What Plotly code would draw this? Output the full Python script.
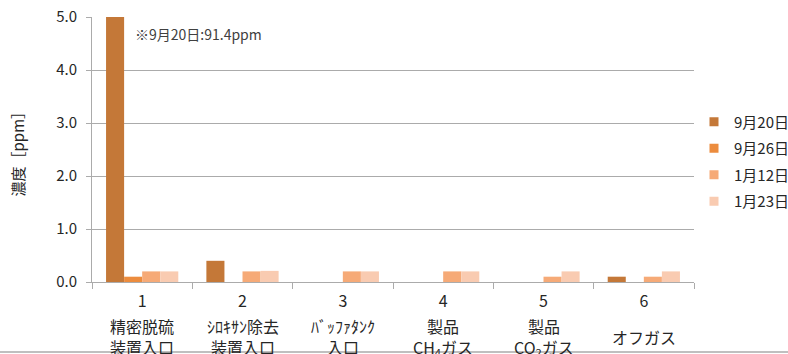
import plotly.graph_objects as go

# Sampling points (x-axis categories) and their names
points = ["1", "2", "3", "4", "5", "6"]
point_names = [
    "精密脱硫<br>装置入口",
    "ｼﾛｷｻﾝ除去<br>装置入口",
    "ﾊﾞｯﾌｧﾀﾝｸ<br>入口",
    "製品<br>CH<sub>4</sub>ガス",
    "製品<br>CO<sub>2</sub>ガス",
    "オフガス",
]

# Measurement dates and concentrations [ppm]
dates = ["9月20日", "9月26日", "1月12日", "1月23日"]
conc_0920 = [91.4, 0.4, 0.0, 0.0, 0.0, 0.1]
conc_0926 = [0.1, 0.0, 0.0, 0.0, 0.0, 0.0]
conc_0112 = [0.2, 0.2, 0.2, 0.2, 0.1, 0.1]
conc_0123 = [0.2, 0.21, 0.2, 0.2, 0.2, 0.2]
series = [conc_0920, conc_0926, conc_0112, conc_0123]
colors = ["#C47838", "#EC8C3E", "#F6AA77", "#F9CBB1"]

y_ticks = [0, 1, 2, 3, 4, 5]
y_ticktext = ["0.0", "1.0", "2.0", "3.0", "4.0", "5.0"]
note_text = "※9月20日:91.4ppm"

font_family = "Noto Sans CJK JP, Noto Sans, sans-serif"
text_color = "#404040"
dark_text = "#262626"
grid_color = "#ABABAB"

fig = go.Figure()
for name, vals, col in zip(dates, series, colors):
    fig.add_trace(go.Bar(
        x=points, y=vals, name=name, marker_color=col,
        marker_line_width=0, showlegend=False,
    ))
    # small square legend swatch
    fig.add_trace(go.Scatter(
        x=[None], y=[None], mode="markers", name=name,
        marker=dict(symbol="square", size=9, color=col),
        legendgroup=name, showlegend=True,
    ))

annotations = []
for i, label in enumerate(point_names):
    annotations.append(dict(
        x=i, xref="x", y=-0.207, yref="paper", text=label,
        showarrow=False, xanchor="center", yanchor="middle",
        font=dict(size=16, color=dark_text, family=font_family),
    ))

annotations.append(dict(
    x=0, xref="x", xshift=-9, y=5, yref="y", yshift=-17, text=note_text,
    showarrow=False, xanchor="left", yanchor="middle",
    font=dict(size=14, color=text_color, family=font_family),
))
annotations.append(dict(
    x=-0.123, xref="paper", y=0.5, yref="paper", text="濃度［ppm］",
    textangle=-90, showarrow=False, xanchor="center", yanchor="middle",
    font=dict(size=15, color=dark_text, family=font_family),
))

fig.update_layout(
    width=788, height=354,
    margin=dict(l=92, r=94, t=17, b=72, autoexpand=False),
    paper_bgcolor="white", plot_bgcolor="white",
    barmode="group", bargap=0.28, bargroupgap=0,
    font=dict(family=font_family, color=text_color, size=15),
    showlegend=True,
    legend=dict(
        x=1.0, xanchor="left", y=0.455, yanchor="middle",
        font=dict(size=15, color=dark_text),
        tracegroupgap=4, itemwidth=30,
        bgcolor="rgba(0,0,0,0)",
    ),
    xaxis=dict(
        type="category", tickson="boundaries", ticks="outside", ticklen=6,
        tickcolor=grid_color, showline=True, linecolor=grid_color,
        showgrid=False, tickfont=dict(size=16, color=dark_text),
        ticklabelstandoff=5, range=[-0.5, 5.5],
    ),
    yaxis=dict(
        range=[0, 5], tickvals=y_ticks, ticktext=y_ticktext,
        ticks="outside", ticklen=5, tickcolor=grid_color,
        showline=True, linecolor=grid_color, showgrid=True,
        gridcolor=grid_color, gridwidth=1, zeroline=False,
        tickfont=dict(size=15, color=dark_text), ticklabelstandoff=6,
    ),
    annotations=annotations,
    shapes=[dict(
        type="line", xref="paper", yref="paper",
        x0=-0.16, x1=1.16, y0=-0.264, y1=-0.264,
        line=dict(color="#BFBFBF", width=2),
    )],
)

fig.write_html("out.html")
